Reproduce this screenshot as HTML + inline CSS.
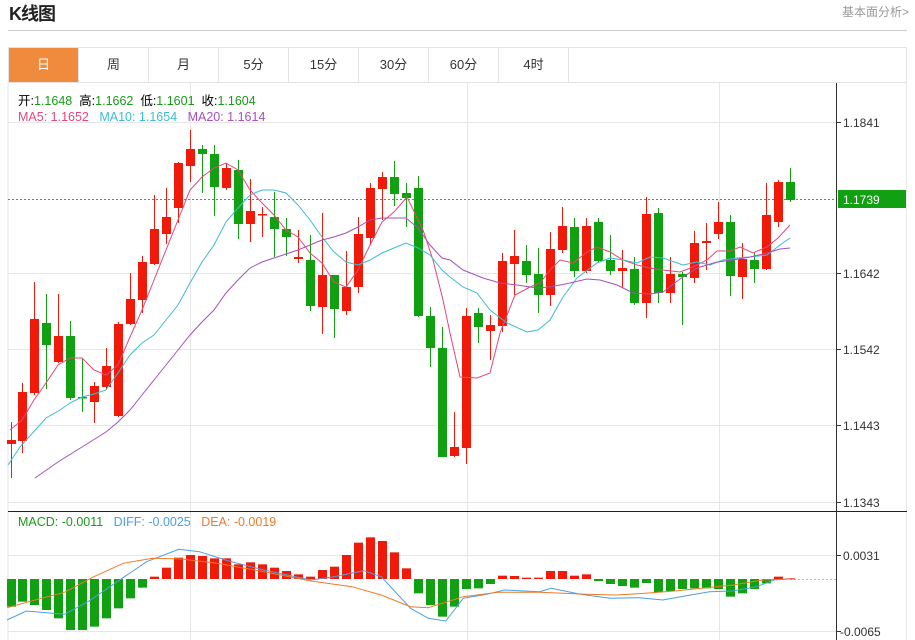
<!DOCTYPE html>
<html><head><meta charset="utf-8"><style>
*{margin:0;padding:0;box-sizing:border-box}
body{width:915px;height:640px;background:#fff;font-family:"Liberation Sans","Noto Sans CJK SC",sans-serif;position:relative;overflow:hidden}
.title{position:absolute;left:9px;top:0px;font-size:18px;font-weight:bold;color:#222;letter-spacing:-1px}
.more{position:absolute;right:6px;top:3px;font-size:12px;color:#999}
.hr{position:absolute;left:8px;top:30px;width:899px;height:1px;background:#ccc}
.tabs{position:absolute;left:8px;top:47px;width:899px;height:36px;border:1px solid #e3e3e3;display:flex}
.tab{width:70px;height:34px;border-right:1px solid #e3e3e3;font-size:13px;color:#333;text-align:center;line-height:34px}
.tab.on{background:#f08a3c;color:#fff}
.leg{position:absolute;left:18px;font-size:12.5px;white-space:nowrap}
.g{color:#1a9a1a}
svg{position:absolute;left:0;top:0}
</style></head><body>
<div class="title">K线图</div>
<div class="more">基本面分析&gt;</div>
<div class="hr"></div>
<div class="tabs"><div class="tab on">日</div><div class="tab">周</div><div class="tab">月</div><div class="tab">5分</div><div class="tab">15分</div><div class="tab">30分</div><div class="tab">60分</div><div class="tab">4时</div></div>
<svg id="s" width="915" height="640" xmlns="http://www.w3.org/2000/svg">
<g stroke="#e6e6e6" stroke-width="1">
<line x1="8" y1="83" x2="8" y2="640"/><line x1="906.5" y1="83" x2="906.5" y2="640"/>
<line x1="190.5" y1="83" x2="190.5" y2="640"/><line x1="467.5" y1="83" x2="467.5" y2="640"/><line x1="719.5" y1="83" x2="719.5" y2="640"/>
<line x1="8" y1="122.5" x2="836" y2="122.5"/><line x1="8" y1="273.5" x2="836" y2="273.5"/><line x1="8" y1="349.5" x2="836" y2="349.5"/><line x1="8" y1="425.5" x2="836" y2="425.5"/><line x1="8" y1="502.5" x2="836" y2="502.5"/>
<line x1="8" y1="555.5" x2="836" y2="555.5"/><line x1="8" y1="631.5" x2="836" y2="631.5"/>
</g>
<line x1="8" y1="511.5" x2="907" y2="511.5" stroke="#222"/>
<line x1="836.5" y1="83" x2="836.5" y2="640" stroke="#333"/>
<line x1="8" y1="199.5" x2="836" y2="199.5" stroke="#3aa63a" stroke-dasharray="2,2"/>
<line x1="790" y1="579.5" x2="836" y2="579.5" stroke="#8cc8ee" stroke-dasharray="2,2"/>
<g stroke="#333"><line x1="836" y1="122.5" x2="841" y2="122.5"/><line x1="836" y1="273.5" x2="841" y2="273.5"/><line x1="836" y1="349.5" x2="841" y2="349.5"/><line x1="836" y1="425.5" x2="841" y2="425.5"/><line x1="836" y1="502.5" x2="841" y2="502.5"/><line x1="836" y1="555.5" x2="841" y2="555.5"/><line x1="836" y1="631.5" x2="841" y2="631.5"/></g>
<rect x="838" y="190" width="68" height="18" fill="#11a011"/>
<g font-family="Liberation Sans,sans-serif" font-size="12" fill="#333">
<text x="843" y="127">1.1841</text><text x="843" y="204" fill="#fff">1.1739</text><text x="843" y="278">1.1642</text><text x="843" y="354">1.1542</text><text x="843" y="430">1.1443</text><text x="843" y="507">1.1343</text><text x="843" y="560">0.0031</text><text x="840" y="636">-0.0065</text>
</g>
<g id="c"></g>
</svg>
<div class="leg" style="top:90px">开:<span class="g">1.1648</span>&nbsp; 高:<span class="g">1.1662</span>&nbsp; 低:<span class="g">1.1601</span>&nbsp; 收:<span class="g">1.1604</span></div>
<div class="leg" style="top:110px"><span style="color:#e0487e">MA5: 1.1652</span>&nbsp;&nbsp; <span style="color:#3cbcd2">MA10: 1.1654</span>&nbsp;&nbsp; <span style="color:#a550be">MA20: 1.1614</span></div>
<div class="leg" style="top:515px"><span class="g">MACD: -0.0011</span>&nbsp;&nbsp; <span style="color:#4d9fe0">DIFF: -0.0025</span>&nbsp;&nbsp; <span style="color:#ee7a2a">DEA: -0.0019</span></div>
<script>
var C=[[11,440,444,422,478,'r'],[22,392,441,383,453,'r'],[34,319,393,282,395,'r'],[46,323,345,294,389,'g'],[58,336,362,294,363,'r'],[70,336,398,321,400,'g'],[82,397,398,358,412,'g'],[94,386,402,382,423,'r'],[106,366,387,348,389,'r'],[118,324,416,322,417,'r'],[130,299,324,273,325,'r'],[142,262,300,256,313,'r'],[154,229,264,195,265,'r'],[166,217,234,188,244,'r'],[178,163,208,162,223,'r'],[190,149,166,130,182,'r'],[202,149,154,145,193,'g'],[214,154,187,145,216,'g'],[226,168,188,163,190,'r'],[238,170,224,160,239,'g'],[250,211,224,179,242,'r'],[262,214,215,207,237,'r'],[274,217,229,192,257,'g'],[286,229,237,218,256,'g'],[298,257,259,230,263,'r'],[310,260,306,235,311,'g'],[322,275,307,213,334,'r'],[334,275,309,275,338,'g'],[346,287,311,251,315,'r'],[358,234,287,217,293,'r'],[370,188,238,183,245,'r'],[382,177,189,172,220,'r'],[394,177,194,161,206,'g'],[406,193,198,183,227,'g'],[418,188,316,176,317,'g'],[430,316,348,307,367,'g'],[442,348,457,327,457,'g'],[454,447,456,412,457,'r'],[466,316,448,308,464,'r'],[478,313,327,308,343,'g'],[490,325,331,315,360,'r'],[502,261,326,253,332,'r'],[514,256,264,230,295,'r'],[526,261,275,245,283,'g'],[538,274,295,248,313,'g'],[550,249,295,232,306,'r'],[562,226,250,207,253,'r'],[574,227,271,218,277,'g'],[586,226,271,218,273,'r'],[598,222,261,218,263,'g'],[610,260,271,235,275,'g'],[622,268,271,250,288,'r'],[634,269,303,257,305,'g'],[646,214,303,197,318,'r'],[658,213,293,208,303,'g'],[670,274,293,257,303,'r'],[682,274,277,272,325,'g'],[694,243,278,231,283,'r'],[706,241,243,223,270,'r'],[718,222,234,202,239,'r'],[730,222,276,215,296,'g'],[742,259,277,243,299,'r'],[754,260,269,253,283,'g'],[766,215,269,183,270,'r'],[778,182,222,180,227,'r'],[790,182,200,168,202,'g']];
var col={r:'#f01a0a',g:'#11a011'},h='';
C.forEach(function(c){var f=col[c[5]];h+='<line x1="'+(c[0]+.5)+'" y1="'+c[3]+'" x2="'+(c[0]+.5)+'" y2="'+c[4]+'" stroke="'+f+'"/>';h+='<rect x="'+(c[0]-4)+'" y="'+c[1]+'" width="9" height="'+Math.max(1.5,c[2]-c[1])+'" fill="'+f+'"/>';});
var M=[305,290,300,315,340,375,375,365,340,310,280,248,215,188,158,150,153,160,160,178,172,178,188,198,208,215,195,185,150,113,97,108,142,190,265,300,335,305,252,250,237,212,213,218,218,198,198,212,208,228,237,243,248,234,262,258,252,250,250,252,275,265,252,235,215,220];
M.forEach(function(v,i){var x=C[i][0],y=505+v/3,z=579,t=Math.min(y,z),hh=Math.max(1,Math.abs(y-z));h+='<rect x="'+(x-4)+'" y="'+t+'" width="9" height="'+hh+'" fill="'+(v<222?'#f01a0a':'#11a011')+'"/>';});
function pl(p,c,fx,fy){var s=p.map(function(q){return (fx?q[0]/1.705:q[0]).toFixed(1)+','+(fy?505+q[1]/3:q[1]).toFixed(1)}).join(' ');h+='<polyline points="'+s+'" fill="none" stroke="'+c+'" stroke-width="1"/>';}
pl([[10,430],[22,420],[34,400],[46,383],[58,365],[70,358],[82,358],[94,370],[106,375],[118,365],[130,337],[142,310],[154,280],[166,250],[178,220],[190,190],[202,177],[214,168],[226,163],[238,170],[250,190],[262,203],[274,215],[286,230],[298,237],[310,253],[322,263],[334,282],[346,287],[358,270],[370,245],[382,222],[394,212],[407,197],[423,230],[433,260],[443,300],[450,333],[460,377],[477,378],[490,373],[500,333],[515,295],[530,287],[540,283],[550,270],[560,260],[573,263],[587,252],[597,247],[610,252],[623,260],[637,265],[650,268],[663,270],[680,272],[693,267],[707,260],[717,251],[730,251],[740,247],[753,253],[767,247],[778,238],[790,225]],'#e0487e');
pl([[8,465],[20,447],[46,418],[60,410],[70,403],[82,397],[94,394],[106,390],[118,373],[130,355],[142,343],[154,335],[166,320],[178,305],[190,283],[202,262],[214,245],[226,222],[238,208],[250,195],[262,190],[274,190],[286,193],[298,205],[310,220],[322,237],[334,252],[346,262],[358,265],[370,260],[382,253],[394,248],[406,243],[418,248],[430,255],[442,270],[450,277],[463,287],[477,293],[490,310],[507,323],[527,332],[538,330],[550,320],[563,297],[577,278],[597,263],[610,258],[623,260],[637,263],[650,257],[663,258],[683,265],[697,262],[710,265],[723,260],[737,258],[750,257],[767,255],[780,245],[790,238]],'#3cbcd2');
pl([[35,478],[58,462],[82,447],[106,432],[118,422],[130,410],[142,395],[154,380],[166,365],[178,350],[190,335],[202,322],[214,310],[226,293],[238,280],[250,268],[262,262],[274,258],[286,254],[298,250],[310,245],[322,240],[334,237],[346,233],[358,227],[370,220],[382,218],[394,218],[406,218],[418,228],[430,245],[442,258],[450,260],[463,270],[483,278],[500,283],[517,285],[537,288],[550,287],[570,283],[587,279],[600,280],[617,285],[633,293],[650,294],[663,292],[680,279],[697,268],[717,262],[733,260],[750,257],[767,253],[780,249],[790,248]],'#a550be');
pl([[12,345],[45,318],[70,322],[110,328],[150,290],[200,230],[250,170],[305,133],[340,140],[390,168],[450,195],[530,225],[570,215],[620,197],[650,215],[700,310],[730,340],[760,348],[790,280],[830,268],[860,255],[920,260],[940,250],[990,268],[1040,280],[1090,278],[1130,285],[1170,272],[1210,260],[1250,258],[1290,245],[1320,225],[1345,222]],'#4d9fe0',1,1);
pl([[12,308],[60,285],[110,262],[160,215],[210,175],[260,160],[310,162],[370,175],[450,200],[530,228],[600,245],[650,270],[700,305],[730,308],[790,275],[850,262],[920,262],[1000,268],[1050,270],[1100,265],[1150,258],[1250,240],[1300,225],[1345,222]],'#ee7a2a',1,1);
document.getElementById('c').innerHTML=h;
</script>
</body></html>
